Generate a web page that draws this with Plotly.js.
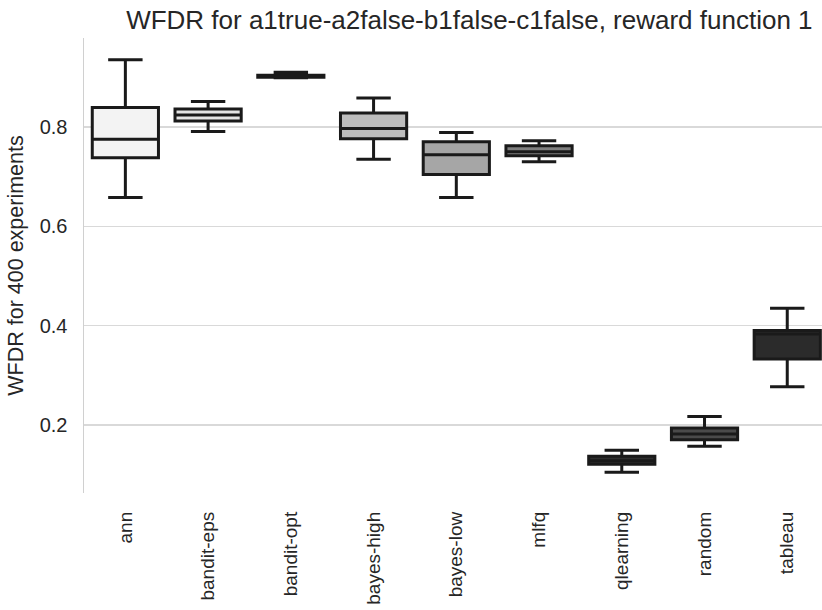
<!DOCTYPE html>
<html>
<head>
<meta charset="utf-8">
<script src="https://cdn.plot.ly/plotly-3.0.1.min.js"></script>
<style>html,body{margin:0;padding:0;background:#fff;}</style>
</head>
<body>
<div id="chart" style="width:822px;height:610px;"></div>
<script>
const categories = ["ann","bandit-eps","bandit-opt","bayes-high","bayes-low","mlfq","qlearning","random","tableau"];
const lowerWhisker = [0.658, 0.791, 0.899, 0.735, 0.658, 0.730, 0.105, 0.157, 0.277];
const q1Values     = [0.738, 0.812, 0.900, 0.776, 0.704, 0.742, 0.121, 0.170, 0.333];
const medianValues = [0.775, 0.824, 0.902, 0.797, 0.744, 0.750, 0.128, 0.182, 0.383];
const q3Values     = [0.839, 0.836, 0.904, 0.828, 0.770, 0.762, 0.137, 0.194, 0.390];
const upperWhisker = [0.935, 0.851, 0.910, 0.858, 0.789, 0.772, 0.149, 0.217, 0.435];
const fillColors = ["#f3f3f3","#e4e4e4","#d0d0d0","#bdbdbd","#a6a6a6","#7e7e7e","#2e2e2e","#4a4a4a","#2b2b2b"];
const yTicks = [0.2, 0.4, 0.6, 0.8];

const traces = categories.map((c, i) => ({
  type: "box",
  x: [c],
  q1: [q1Values[i]],
  median: [medianValues[i]],
  q3: [q3Values[i]],
  lowerfence: [lowerWhisker[i]],
  upperfence: [upperWhisker[i]],
  width: 0.8,
  whiskerwidth: 0.52,
  fillcolor: fillColors[i],
  line: {color: "#1a1a1a", width: 3},
  boxpoints: false,
  hoverinfo: "skip",
  showlegend: false
}));

const font = {family: "Liberation Sans, Arial, sans-serif", color: "#262626"};

const layout = {
  width: 822, height: 610,
  margin: {l: 84, r: 0, t: 38, b: 117},
  paper_bgcolor: "#fff", plot_bgcolor: "#fff",
  font: Object.assign({size: 19}, font),
  title: {text: "WFDR for a1true-a2false-b1false-c1false, reward function 1",
          x: 0.571, xref: "container", xanchor: "center", y: 0.968, yanchor: "middle", yref: "container",
          font: Object.assign({size: 26}, font)},
  xaxis: {
    type: "category", categoryarray: categories, categoryorder: "array",
    range: [-0.5, 8.42], showgrid: false, zeroline: false, showline: false,
    tickangle: -90, ticks: "", ticklabelstandoff: 14,
    tickfont: Object.assign({size: 19}, font)
  },
  yaxis: {
    range: [0.063, 0.979], tickvals: yTicks, ticktext: yTicks.map(v => v.toFixed(1)),
    showgrid: true, gridcolor: "#d9d9d9", gridwidth: 1.5, zeroline: false,
    showline: true, linecolor: "#d0d0d0", linewidth: 1.5, ticks: "",
    ticklabelstandoff: 11,
    tickfont: Object.assign({size: 20}, font),
    title: {text: "WFDR for 400 experiments", standoff: 10, font: Object.assign({size: 21.5}, font)}
  },
  boxgap: 0.2
};

Plotly.newPlot("chart", traces, layout, {displayModeBar: false, staticPlot: true});
</script>
</body>
</html>
